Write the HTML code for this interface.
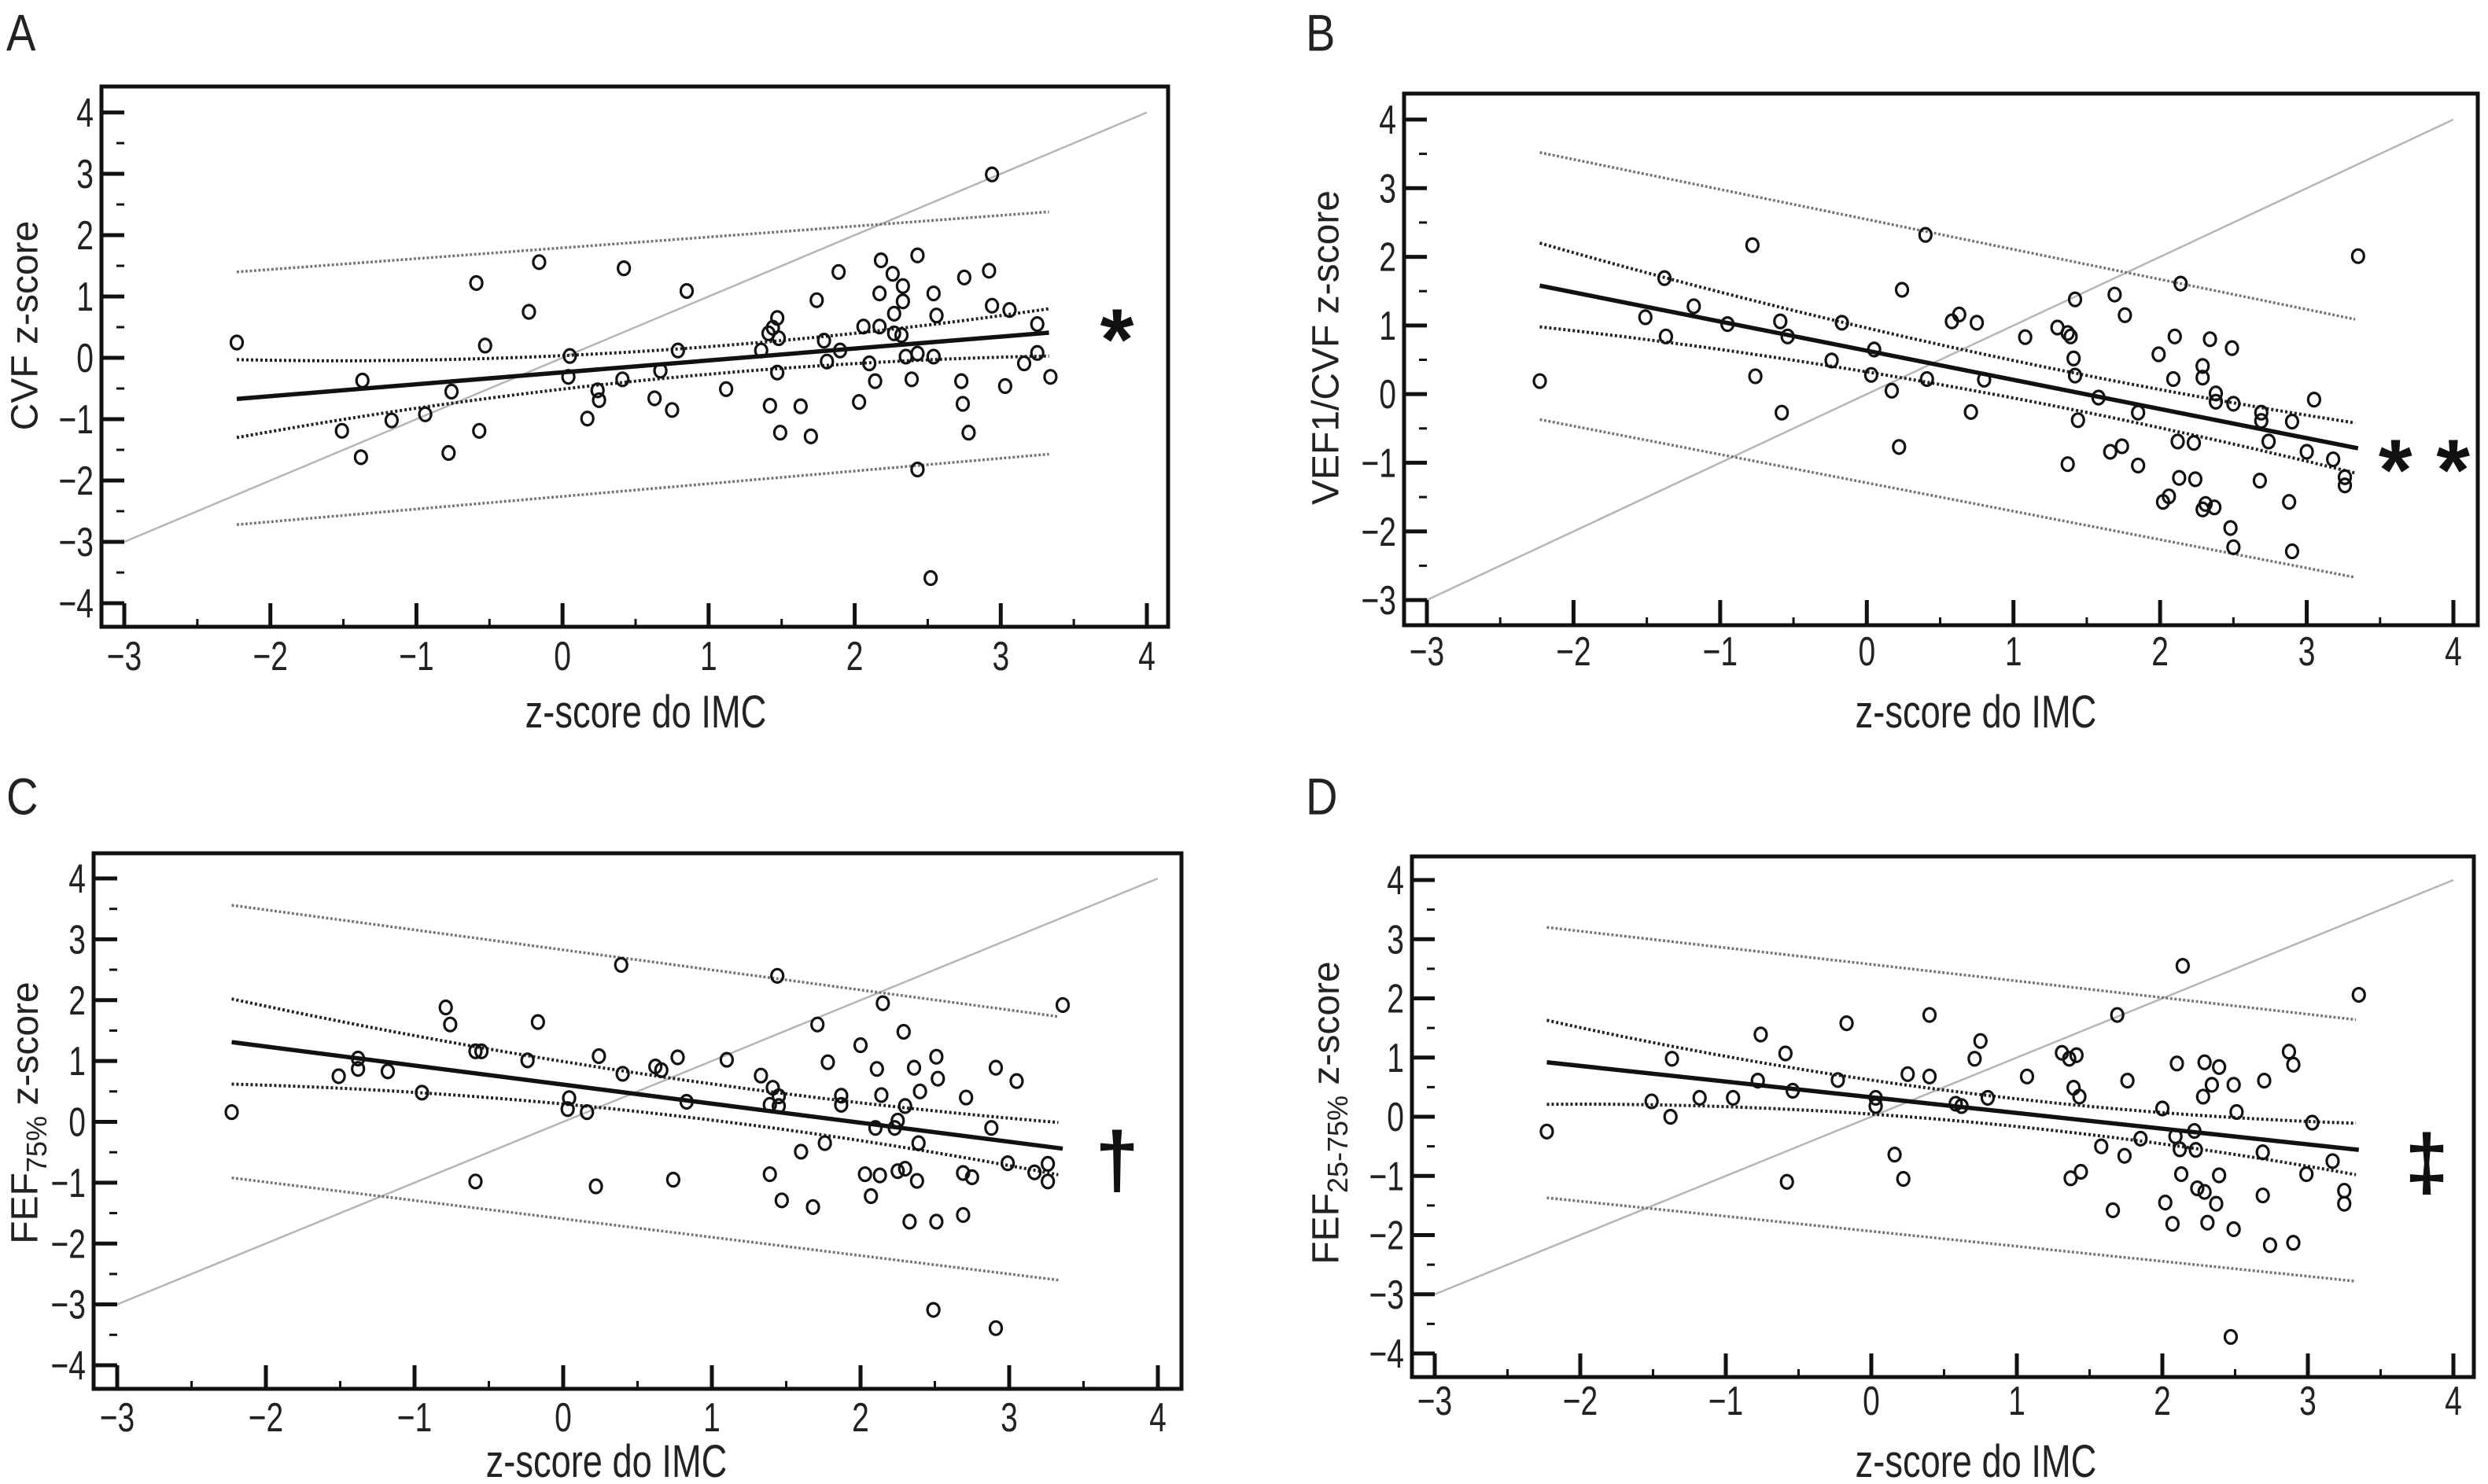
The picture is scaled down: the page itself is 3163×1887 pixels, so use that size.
<!DOCTYPE html>
<html><head><meta charset="utf-8"><style>
html,body{margin:0;padding:0;background:#fff;}
svg{display:block;}
text{font-family:"Liberation Sans",sans-serif;fill:#222;}
</style></head><body>
<svg id="fig" width="3163" height="1887" viewBox="0 0 3163 1887" xmlns="http://www.w3.org/2000/svg"></svg>
<script>
// ---------- data ----------
const xTicks = [-3,-2,-1,0,1,2,3,4];
const yTicksFull = [-4,-3,-2,-1,0,1,2,3,4];
const yTicksB = [-3,-2,-1,0,1,2,3,4];
const ciX = [-2.23, 0.5, 3.33];

const aX = [-2.23,-1.37,-1.51,-1.38,-1.17,-0.94,-0.76,-0.78,-0.59,-0.53,-0.57,-0.23,-0.16,0.05,0.04,0.17,0.24,0.25,0.41,0.42,0.63,0.67,0.75,0.79,0.85,1.12,1.36,1.41,1.44,1.47,1.48,1.47,1.42,1.49,1.63,1.70,1.74,1.79,1.81,1.89,1.90,2.03,2.06,2.10,2.14,2.17,2.17,2.18,2.26,2.27,2.27,2.33,2.33,2.32,2.35,2.39,2.43,2.43,2.43,2.52,2.54,2.54,2.56,2.73,2.74,2.75,2.78,2.92,2.94,2.94,3.03,3.06,3.16,3.25,3.25,3.34];
const aY = [0.25,-0.37,-1.19,-1.62,-1.02,-0.92,-0.55,-1.55,1.22,0.2,-1.19,0.75,1.56,0.03,-0.31,-0.99,-0.53,-0.69,-0.35,1.46,-0.66,-0.21,-0.85,0.12,1.09,-0.51,0.12,0.4,0.49,0.65,0.32,-0.24,-0.78,-1.22,-0.79,-1.28,0.94,0.28,-0.06,1.4,0.12,-0.72,0.51,-0.09,-0.38,0.51,1.05,1.59,1.37,0.72,0.4,1.17,0.92,0.37,0.02,-0.35,0.07,1.67,-1.82,-3.59,0.02,1.05,0.69,-0.38,-0.75,1.31,-1.22,1.42,2.99,0.85,-0.46,0.78,-0.09,0.55,0.08,-0.31];
const aFit = [-0.67, 0.41];
const aInnerUp = [-0.03, 0.1, 0.8];
const aInnerLo = [-1.3, -0.38, 0.03];
const aOuterUp = [1.4, 2.38];
const aOuterLo = [-2.72, -1.57];

const bX = [-2.23,-1.51,-1.38,-1.37,-1.18,-0.95,-0.78,-0.76,-0.59,-0.58,-0.54,-0.24,-0.17,0.03,0.05,0.17,0.22,0.24,0.4,0.41,0.58,0.63,0.71,0.75,0.8,1.08,1.3,1.37,1.39,1.42,1.41,1.42,1.44,1.37,1.58,1.66,1.69,1.74,1.76,1.85,1.85,1.99,2.02,2.06,2.09,2.1,2.12,2.14,2.13,2.23,2.24,2.29,2.29,2.29,2.31,2.34,2.37,2.38,2.38,2.48,2.49,2.5,2.5,2.69,2.69,2.68,2.74,2.88,2.9,2.9,3.0,3.05,3.18,3.26,3.26,3.35];
const bY = [0.19,1.12,1.69,0.84,1.28,1.02,2.17,0.26,1.06,-0.27,0.84,0.49,1.04,0.28,0.65,0.05,-0.77,1.52,2.32,0.22,1.06,1.16,-0.26,1.04,0.21,0.83,0.97,0.89,0.84,1.38,0.52,0.27,-0.38,-1.02,-0.05,-0.84,1.45,-0.76,1.15,-0.27,-1.04,0.58,-1.57,-1.49,0.22,0.84,-0.69,1.61,-1.22,-0.71,-1.24,0.41,0.24,-1.68,-1.6,0.8,-1.65,0.01,-0.11,-1.95,0.67,-2.23,-0.14,-0.27,-0.39,-1.26,-0.69,-1.57,-0.4,-2.29,-0.84,-0.08,-0.95,-1.21,-1.33,2.01];
const bFit = [1.58, -0.79];
const bInnerUp = [2.2, 0.72, -0.42];
const bInnerLo = [0.98, 0.14, -1.15];
const bOuterUp = [3.52, 1.09];
const bOuterLo = [-0.37, -2.67];

const cX = [-2.23,-1.51,-1.38,-1.38,-1.18,-0.95,-0.79,-0.76,-0.59,-0.55,-0.59,-0.24,-0.17,0.04,0.03,0.16,0.22,0.24,0.39,0.4,0.62,0.66,0.74,0.77,0.83,1.1,1.33,1.41,1.45,1.39,1.45,1.39,1.44,1.47,1.6,1.68,1.71,1.76,1.78,1.87,1.87,2.0,2.03,2.07,2.1,2.11,2.13,2.14,2.15,2.23,2.25,2.25,2.29,2.3,2.3,2.33,2.36,2.38,2.39,2.4,2.49,2.51,2.52,2.51,2.69,2.69,2.71,2.75,2.88,2.91,2.91,2.99,3.05,3.17,3.26,3.26,3.36];
const cY = [0.16,0.75,1.04,0.87,0.83,0.48,1.88,1.6,1.16,1.16,-0.98,1.01,1.64,0.39,0.21,0.16,-1.06,1.08,2.58,0.79,0.91,0.85,-0.95,1.06,0.33,1.02,0.76,0.56,0.42,0.28,0.26,-0.86,2.4,-1.29,-0.49,-1.4,1.6,-0.35,0.98,0.43,0.28,1.26,-0.86,-1.22,-0.1,0.87,-0.88,0.44,1.95,-0.1,0.02,-0.81,1.48,0.26,-0.77,-1.64,0.89,-0.97,-0.35,0.5,-3.09,1.07,0.71,-1.64,-0.84,-1.53,0.4,-0.91,-0.1,0.89,-3.39,-0.68,0.67,-0.83,-0.69,-0.98,1.92];
const cFit = [1.31, -0.44];
const cInnerUp = [2.02, 0.8, -0.01];
const cInnerLo = [0.62, 0.17, -0.87];
const cOuterUp = [3.56, 1.73];
const cOuterLo = [-0.92, -2.6];

const dX = [-2.23,-1.51,-1.38,-1.37,-1.18,-0.95,-0.78,-0.76,-0.59,-0.58,-0.54,-0.23,-0.17,0.03,0.03,0.16,0.22,0.25,0.4,0.4,0.58,0.62,0.71,0.75,0.8,1.07,1.31,1.36,1.41,1.39,1.43,1.37,1.44,1.58,1.66,1.69,1.74,1.76,1.85,2.0,2.02,2.07,2.09,2.1,2.12,2.14,2.13,2.22,2.23,2.24,2.28,2.29,2.29,2.31,2.34,2.37,2.39,2.39,2.47,2.49,2.49,2.51,2.69,2.69,2.7,2.74,2.87,2.9,2.9,2.99,3.03,3.17,3.25,3.25,3.35];
const dY = [-0.25,0.26,0.0,0.98,0.32,0.32,0.61,1.39,1.07,-1.1,0.44,0.62,1.58,0.32,0.18,-0.64,-1.05,0.72,1.72,0.68,0.22,0.18,0.98,1.28,0.32,0.68,1.08,0.98,1.04,0.49,0.34,-1.04,-0.93,-0.5,-1.58,1.72,-0.66,0.61,-0.37,0.14,-1.45,-1.81,-0.33,0.9,-0.55,2.55,-0.97,-0.24,-0.56,-1.21,0.34,0.92,-1.27,-1.79,0.54,-1.47,0.84,-0.99,-3.72,0.54,-1.9,0.08,-1.33,-0.6,0.61,-2.17,1.1,0.88,-2.13,-0.97,-0.1,-0.75,-1.25,-1.47,2.06];
const dFit = [0.92, -0.56];
const dInnerUp = [1.63, 0.45, -0.11];
const dInnerLo = [0.21, -0.05, -0.98];
const dOuterUp = [3.2, 1.64];
const dOuterLo = [-1.37, -2.78];

// ---------- drawing ----------
const NS = "http://www.w3.org/2000/svg";
const svg = document.getElementById("fig");
function mk(tag, attrs, parent) {
  const e = document.createElementNS(NS, tag);
  for (const k in attrs) e.setAttribute(k, attrs[k]);
  (parent || svg).appendChild(e);
  return e;
}
function ctext(parent, x, y, str, size, anchor, sx) {
  const g = mk("g", {transform: `translate(${x},${y}) scale(${sx},1)`}, parent);
  const t = mk("text", {x: 0, y: 0, "font-size": size, "text-anchor": anchor, "dominant-baseline": "central"}, g);
  t.textContent = str;
  return t;
}

function panel(cfg) {
  const g = mk("g", {});
  
  
  const fx = v => cfg.x0px + (v - cfg.xv0) * (cfg.x1px - cfg.x0px) / (cfg.xv1 - cfg.xv0);
  const fy = v => cfg.y0px + (v - cfg.yv0) * (cfg.y1px - cfg.y0px) / (cfg.yv1 - cfg.yv0);
  const F = cfg.frame;
  const axX = fx(-3), axY = fy(cfg.yTicks[0]);

  const L = ctext(g, cfg.letterX, cfg.letterY, cfg.letter, 66, "start", 0.85);
  
  

  const diag = mk("line", {x1: fx(-3), y1: fy(cfg.diag[0]), x2: fx(4), y2: fy(cfg.diag[1]), stroke: "#b5b5b5", "stroke-width": 2.5}, g);
  
  

  [[cfg.outerUp, 'prediction-band-upper'], [cfg.outerLo, 'prediction-band-lower']].forEach(([arr, nm]) => {
    const l = mk("line", {x1: fx(ciX[0]), y1: fy(arr[0]), x2: fx(ciX[2]), y2: fy(arr[1]), stroke: "#777", "stroke-width": 3.5, "stroke-dasharray": "3,2.5"}, g);
    
    
  });
  [[cfg.innerUp, 'confidence-band-upper'], [cfg.innerLo, 'confidence-band-lower']].forEach(([arr, nm]) => {
    let d = "";
    const n = 40;
    for (let i = 0; i <= n; i++) {
      const xv = ciX[0] + (ciX[2] - ciX[0]) * i / n;
      const [x0, x1, x2] = ciX;
      const yv = arr[0] * (xv - x1) * (xv - x2) / ((x0 - x1) * (x0 - x2))
               + arr[1] * (xv - x0) * (xv - x2) / ((x1 - x0) * (x1 - x2))
               + arr[2] * (xv - x0) * (xv - x1) / ((x2 - x0) * (x2 - x1));
      d += (i ? "L" : "M") + fx(xv).toFixed(1) + "," + fy(yv).toFixed(1);
    }
    const p = mk("path", {d, fill: "none", stroke: "#222", "stroke-width": 4, "stroke-dasharray": "3,3"}, g);
    
    
  });
  const reg = mk("line", {x1: fx(ciX[0]), y1: fy(cfg.fit[0]), x2: fx(cfg.fitEnd), y2: fy(cfg.fit[1]), stroke: "#111", "stroke-width": 5.5}, g);
  
  

  for (let i = 0; i < cfg.xs.length; i++) {
    const c = mk("ellipse", {cx: fx(cfg.xs[i]), cy: fy(cfg.ys[i]), rx: 7.5, ry: 8.5, fill: "none", stroke: "#111", "stroke-width": 3.2}, g);
    
    
  }

  const fr = mk("rect", {x: F[0], y: F[1], width: F[2] - F[0], height: F[3] - F[1], fill: "none", stroke: "#111", "stroke-width": 5}, g);
  
  

  const yt = cfg.yTicks;
  for (let v = yt[0]; v <= yt[yt.length - 1] + 1e-9; v += 0.5) {
    const major = Math.abs(v - Math.round(v)) < 1e-9;
    const y = fy(v);
    const x1 = major ? F[0] : axX - 10;
    mk("line", {x1, y1: y, x2: axX, y2: y, stroke: "#111", "stroke-width": major ? 5 : 3}, g);
  }
  yt.forEach(v => {
    const t = ctext(g, F[0] - 10, fy(v), v < 0 ? "\u2212" + Math.abs(v) : String(v), 52, "end", 0.75);
    
    
  });
  for (let v = -3; v <= 4 + 1e-9; v += 0.5) {
    const major = Math.abs(v - Math.round(v)) < 1e-9;
    const x = fx(v);
    const y2 = major ? axY : F[3] - 10;
    mk("line", {x1: x, y1: F[3], x2: x, y2, stroke: "#111", "stroke-width": major ? 5 : 3}, g);
  }
  mk("line", {x1: F[0], y1: axY, x2: axX, y2: axY, stroke: "#111", "stroke-width": 5}, g);
  xTicks.forEach(v => {
    const t = ctext(g, fx(v), cfg.xLabY, v < 0 ? "\u2212" + Math.abs(v) : String(v), 52, "middle", 0.75);
    
    
  });
  const xt = ctext(g, cfg.xTitle[0], cfg.xTitle[1], "z-score do IMC", 58, "middle", 0.78);
  
  

  const yg = mk("g", {transform: `translate(${cfg.yTitle[0]},${cfg.yTitle[1]}) rotate(-90)`}, g);
  
  
  const ytx = mk("text", {x: 0, y: 0, "font-size": 48, "text-anchor": "middle", "dominant-baseline": "central"}, yg);
  ytx.innerHTML = cfg.yTitleHtml;

  const s = mk("text", {x: cfg.sig[0], y: cfg.sig[1], "font-size": cfg.sig[3], "text-anchor": "middle", "dominant-baseline": "central", "font-weight": "bold", style: "fill:#111"}, g);
  s.textContent = cfg.sig[2];
  
  
}

panel({name: "panel-a-cvf", letter: "A", letterX: 8, letterY: 42,
  frame: [129, 110, 1485, 797], x0px: 158, x1px: 1458, xv0: -3, xv1: 4, y0px: 143, y1px: 767, yv0: 4, yv1: -4,
  yTicks: yTicksFull, diag: [-3, 4], xs: aX, ys: aY, fit: aFit, fitEnd: 3.33,
  innerUp: aInnerUp, innerLo: aInnerLo, outerUp: aOuterUp, outerLo: aOuterLo,
  xLabY: 834, xTitle: [821, 906], yTitle: [32, 414], yTitleHtml: "CVF z-score",
  sig: [1420, 432, "*", 110]});

panel({name: "panel-b-vef1-cvf", letter: "B", letterX: 1660, letterY: 42,
  frame: [1785, 119, 3150, 795], x0px: 1814, x1px: 3119, xv0: -3, xv1: 4, y0px: 152, y1px: 763, yv0: 4, yv1: -3,
  yTicks: yTicksB, diag: [-3, 4], xs: bX, ys: bY, fit: bFit, fitEnd: 3.35,
  innerUp: bInnerUp, innerLo: bInnerLo, outerUp: bOuterUp, outerLo: bOuterLo,
  xLabY: 828, xTitle: [2512, 906], yTitle: [1686, 442], yTitleHtml: "VEF1/CVF z-score",
  sig: [3082, 598, "* *", 110]});

panel({name: "panel-c-fef75", letter: "C", letterX: 8, letterY: 1013,
  frame: [119, 1085, 1502, 1766], x0px: 149, x1px: 1472, xv0: -3, xv1: 4, y0px: 1117, y1px: 1736, yv0: 4, yv1: -4,
  yTicks: yTicksFull, diag: [-3, 4], xs: cX, ys: cY, fit: cFit, fitEnd: 3.36,
  innerUp: cInnerUp, innerLo: cInnerLo, outerUp: cOuterUp, outerLo: cOuterLo,
  xLabY: 1802, xTitle: [771, 1859], yTitle: [32, 1415],
  yTitleHtml: 'FEF<tspan dy="14" font-size="36">75%</tspan><tspan dy="-14">  z-score</tspan>',
  sig: [1420, 1475, "\u2020", 100]});

panel({name: "panel-d-fef2575", letter: "D", letterX: 1660, letterY: 1013,
  frame: [1795, 1089, 3145, 1751], x0px: 1824, x1px: 3119, xv0: -3, xv1: 4, y0px: 1119, y1px: 1721, yv0: 4, yv1: -4,
  yTicks: yTicksFull, diag: [-3, 4], xs: dX, ys: dY, fit: dFit, fitEnd: 3.35,
  innerUp: dInnerUp, innerLo: dInnerLo, outerUp: dOuterUp, outerLo: dOuterLo,
  xLabY: 1781, xTitle: [2512, 1859], yTitle: [1686, 1415],
  yTitleHtml: 'FEF<tspan dy="14" font-size="36">25-75%</tspan><tspan dy="-14">  z-score</tspan>',
  sig: [3085, 1478, "\u2021", 100]});
</script>
</body></html>
